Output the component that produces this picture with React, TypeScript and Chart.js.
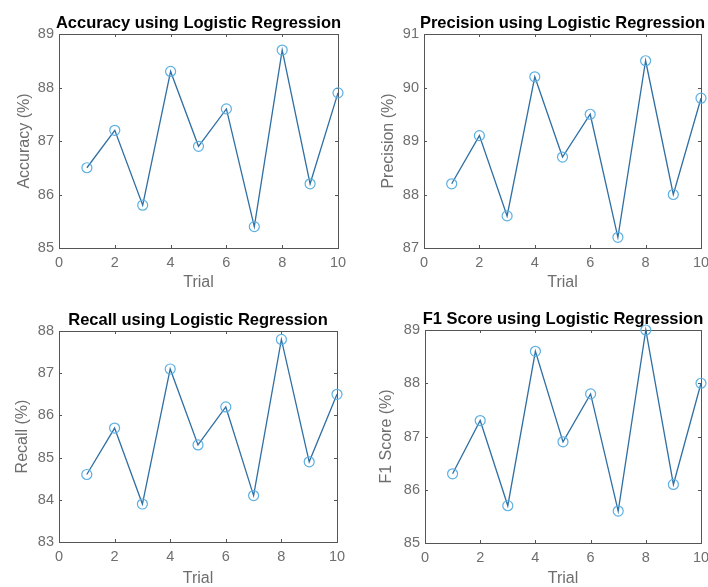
import React, { useEffect, useRef } from "react";
import { Chart, registerables } from "chart.js";

Chart.register(...registerables);

// ---------- data ----------
const trials = [1, 2, 3, 4, 5, 6, 7, 8, 9, 10];
const accuracy = [86.5, 87.2, 85.8, 88.3, 86.9, 87.6, 85.4, 88.7, 86.2, 87.9];
const precision = [88.2, 89.1, 87.6, 90.2, 88.7, 89.5, 87.2, 90.5, 88.0, 89.8];
const recall = [84.6, 85.7, 83.9, 87.1, 85.3, 86.2, 84.1, 87.8, 84.9, 86.5];
const f1Score = [86.3, 87.3, 85.7, 88.6, 86.9, 87.8, 85.6, 89.0, 86.1, 88.0];

const xTickValues = [0, 2, 4, 6, 8, 10];
const accuracyRange = [85, 89];
const precisionRange = [87, 91];
const recallRange = [83, 88];
const f1Range = [85, 89];

const titles = [
  "Accuracy using Logistic Regression",
  "Precision using Logistic Regression",
  "Recall using Logistic Regression",
  "F1 Score using Logistic Regression",
];
const yLabels = ["Accuracy (%)", "Precision (%)", "Recall (%)", "F1 Score (%)"];
const xLabel = "Trial";

// ---------- layout / style ----------
const FONT = '"Liberation Sans", Arial, Helvetica, sans-serif';
const LINE_COLOR = "#2f6fa3";
const MARKER_COLOR = "#5cb0e2";
const AXIS_COLOR = "#555555";
const TEXT_COLOR = "#6e6e6e";

type Layout = {
  left: number;
  top: number;
  width: number;
  height: number;
  area: { l: number; t: number; r: number; b: number };
  yTitleX: number;
  xTitleY: number;
};

const layouts: Layout[] = [
  { left: 0, top: 0, width: 354, height: 294, area: { l: 59, t: 34, r: 338, b: 248 }, yTitleX: 25, xTitleY: 283 },
  { left: 354, top: 0, width: 354, height: 294, area: { l: 70, t: 34, r: 347, b: 248 }, yTitleX: 35, xTitleY: 283 },
  { left: 0, top: 294, width: 354, height: 293, area: { l: 59, t: 37, r: 337, b: 248 }, yTitleX: 23, xTitleY: 285 },
  { left: 354, top: 294, width: 354, height: 293, area: { l: 71, t: 36, r: 347, b: 249 }, yTitleX: 33, xTitleY: 285 },
];

const boxPlugin = {
  id: "matlabBox",
  beforeDatasetsDraw(chart: any) {
    const { ctx, chartArea } = chart;
    const { left, right, top, bottom } = chartArea;
    const xs = chart.scales.x;
    const ys = chart.scales.y;
    ctx.save();
    ctx.strokeStyle = AXIS_COLOR;
    ctx.lineWidth = 1;
    ctx.strokeRect(Math.round(left) + 0.5, Math.round(top) + 0.5, Math.round(right - left), Math.round(bottom - top));
    const tl = 3;
    ctx.beginPath();
    xs.ticks.forEach((t: any) => {
      const x = Math.round(xs.getPixelForValue(t.value)) + 0.5;
      ctx.moveTo(x, bottom);
      ctx.lineTo(x, bottom - tl);
      ctx.moveTo(x, top);
      ctx.lineTo(x, top + tl);
    });
    ys.ticks.forEach((t: any) => {
      const y = Math.round(ys.getPixelForValue(t.value)) + 0.5;
      ctx.moveTo(left, y);
      ctx.lineTo(left + tl, y);
      ctx.moveTo(right, y);
      ctx.lineTo(right - tl, y);
    });
    ctx.stroke();
    ctx.restore();
  },
  afterDraw(chart: any) {
    const { ctx, chartArea } = chart;
    const title = chart.options.plugins.matlabBox?.title;
    if (!title) return;
    ctx.save();
    ctx.font = `bold 16.5px ${FONT}`;
    ctx.fillStyle = "#000000";
    ctx.textAlign = "center";
    ctx.textBaseline = "alphabetic";
    ctx.fillText(title, (chartArea.left + chartArea.right) / 2, chartArea.top - 6.5);
    ctx.restore();
  },
};

function Panel({ idx, values, range }: { idx: number; values: number[]; range: number[] }) {
  const ref = useRef<HTMLCanvasElement>(null);
  const lay = layouts[idx];
  useEffect(() => {
    if (!ref.current) return;
    const chart = new Chart(ref.current, {
      type: "scatter",
      data: {
        datasets: [
          {
            data: trials.map((t, i) => ({ x: t, y: values[i] })),
            showLine: true,
            borderColor: LINE_COLOR,
            borderWidth: 1.3,
            pointRadius: 5,
            pointBorderColor: MARKER_COLOR,
            pointBackgroundColor: "rgba(0,0,0,0)",
            pointBorderWidth: 1.2,
            clip: false,
          } as any,
        ],
      },
      plugins: [boxPlugin],
      options: {
        animation: false,
        responsive: false,
        maintainAspectRatio: false,
        devicePixelRatio: 1,
        layout: {
          padding: { left: 0, top: lay.area.t, right: lay.width - lay.area.r, bottom: 0 },
        },
        plugins: {
          legend: { display: false },
          tooltip: { enabled: false },
          title: { display: false },
          matlabBox: { title: titles[idx] },
        } as any,
        scales: {
          x: {
            type: "linear",
            min: xTickValues[0],
            max: xTickValues[xTickValues.length - 1],
            afterBuildTicks: (s: any) => {
              s.ticks = xTickValues.map((v) => ({ value: v }));
            },
            ticks: {
              padding: 6,
              color: TEXT_COLOR,
              font: { family: FONT, size: 14.5 },
              maxRotation: 0,
            },
            grid: { display: false, drawTicks: false },
            border: { display: false },
            title: {
              display: true,
              text: xLabel,
              color: TEXT_COLOR,
              font: { family: FONT, size: 16, lineHeight: 1 },
              padding: { top: 0, bottom: lay.height - lay.xTitleY - 8 },
            },
            afterFit: (s: any) => {
              s.height = lay.height - lay.area.b;
              s.paddingLeft = 0;
              s.paddingRight = 0;
            },
          },
          y: {
            type: "linear",
            min: range[0],
            max: range[1],
            ticks: {
              stepSize: 1,
              padding: 5,
              color: TEXT_COLOR,
              font: { family: FONT, size: 14.5 },
            },
            grid: { display: false, drawTicks: false },
            border: { display: false },
            title: {
              display: true,
              text: yLabels[idx],
              color: TEXT_COLOR,
              font: { family: FONT, size: 16, lineHeight: 1 },
              padding: { top: lay.yTitleX - 8, bottom: 0 },
            },
            afterFit: (s: any) => {
              s.width = lay.area.l;
              s.paddingTop = 0;
              s.paddingBottom = 0;
            },
          },
        },
      } as any,
    });
    return () => chart.destroy();
  }, []);
  return (
    <canvas
      ref={ref}
      width={lay.width}
      height={lay.height}
      style={{ position: "absolute", left: lay.left, top: lay.top, width: lay.width, height: lay.height }}
    />
  );
}

export default function App() {
  return (
    <div style={{ position: "absolute", left: 0, top: 0, width: 708, height: 587, background: "#ffffff", overflow: "hidden" }}>
      <Panel idx={0} values={accuracy} range={accuracyRange} />
      <Panel idx={1} values={precision} range={precisionRange} />
      <Panel idx={2} values={recall} range={recallRange} />
      <Panel idx={3} values={f1Score} range={f1Range} />
    </div>
  );
}
